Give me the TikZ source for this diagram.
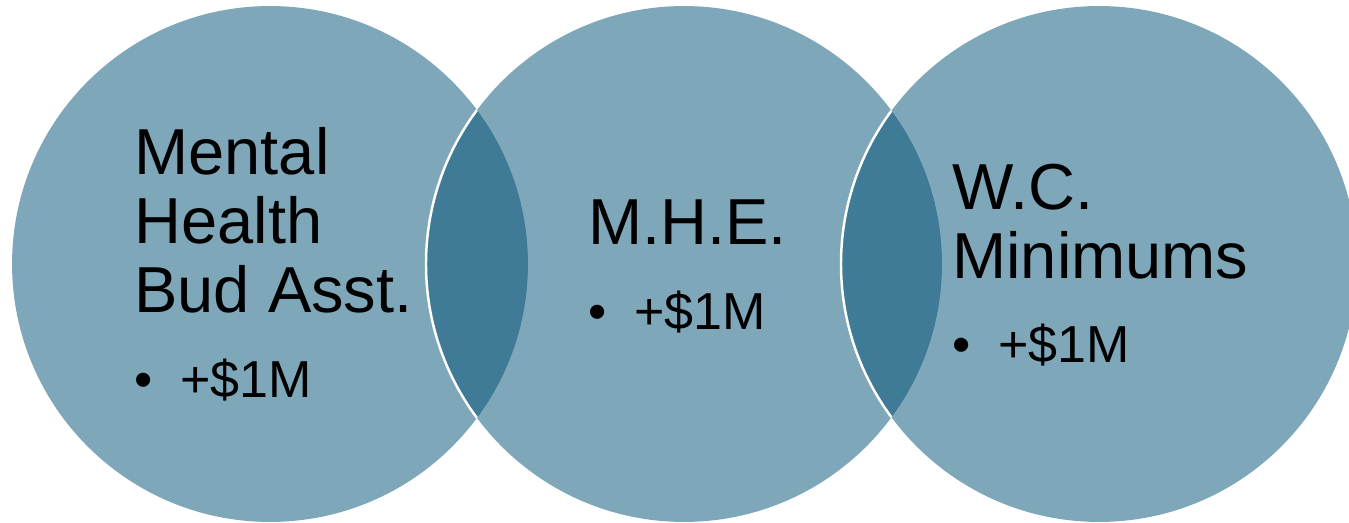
\documentclass[tikz,border=0pt]{standalone}
\usepackage{fontspec}
\setmainfont{Liberation Sans}
\usepackage{tikz}
\usetikzlibrary{positioning}
\definecolor{bubbleblue}{RGB}{0,79,117}

\begin{document}
\begin{tikzpicture}[x=0.02cm, y=0.02cm,
  bubble/.style={circle, fill=bubbleblue, fill opacity=0.5,
                 minimum size=10.32cm, inner sep=0pt},
  rim/.style={draw=white, line width=1.4pt},
  head/.style={font=\fontsize{37}{39.3}\selectfont, align=left,
               anchor=base west, inner sep=0pt},
  item/.style={font=\fontsize{29.6}{32}\selectfont,
               anchor=base west, inner sep=0pt},
]
\clip (0,0) rectangle (1349,523);

% --- the three circles ---
\node[bubble] (mh)  at (270,259)  {};
\node[bubble] (mhe) at (684,259)  {};
\node[bubble] (wc)  at (1099,259) {};

% white rim where a circle runs over the one to its left
\begin{scope}
  \clip (mh.center) circle (258);
  \draw[rim] (mhe.center) circle (258);
\end{scope}
\begin{scope}
  \clip (mhe.center) circle (258);
  \draw[rim] (wc.center) circle (258);
\end{scope}

% --- titles and amounts (base = last line) ---
\node[head] (mht)  at (134,210) {Mental\\Health\\Bud Asst.};
\node[item] (mhb)  at (134,125) {\makebox[0.92cm][l]{\textbullet}+\$1M};

\node[head] (mhet) at (588,278) {M.H.E.};
\node[item] (mheb) at (588,193) {\makebox[0.92cm][l]{\textbullet}+\$1M};

\node[head] (wct)  at (952,244) {W.C.\\Minimums};
\node[item] (wcb)  at (952,160) {\makebox[0.92cm][l]{\textbullet}+\$1M};
\end{tikzpicture}
\end{document}
